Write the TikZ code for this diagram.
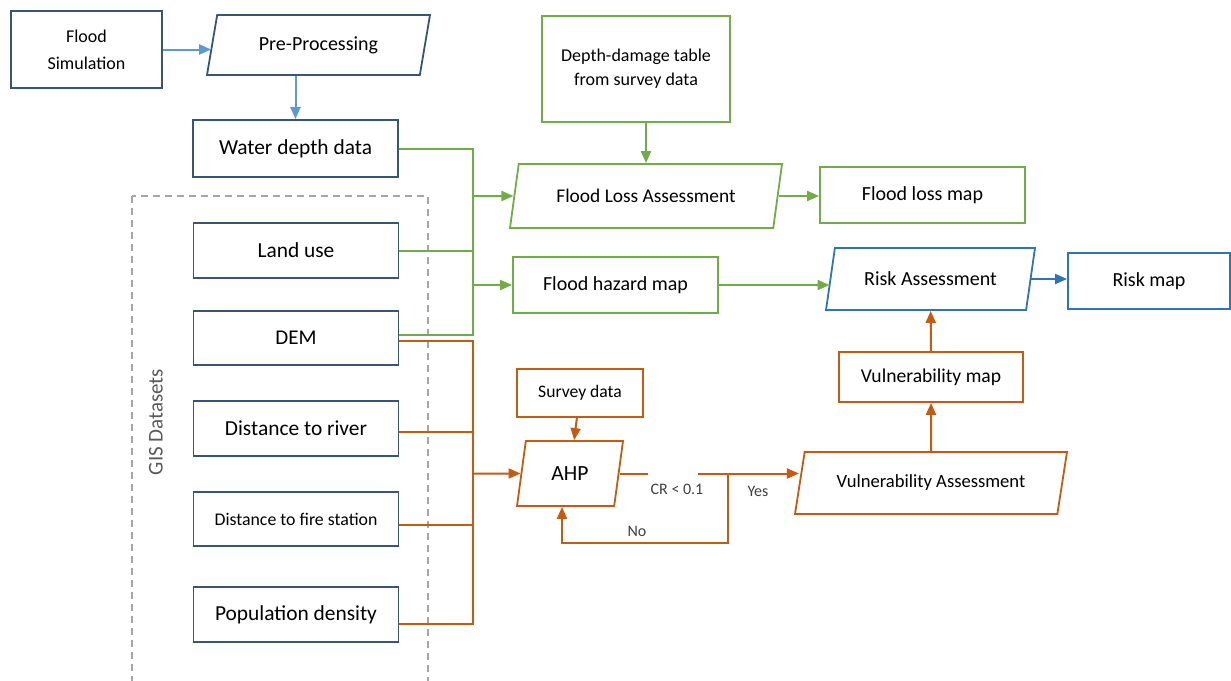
\documentclass[tikz,border=0pt]{standalone}
\usepackage{fontspec}
\setmainfont{Carlito}
\usetikzlibrary{arrows.meta,shapes.geometric}
\definecolor{boxblue}{HTML}{3A5574}
\definecolor{riskblue}{HTML}{2E75B6}
\definecolor{arrblue}{HTML}{5B9BD5}
\definecolor{fgreen}{HTML}{70AD47}
\definecolor{vorange}{HTML}{C55A11}
\begin{document}
\begin{tikzpicture}[x=0.5pt, y=-0.5pt, font=\fontsize{10}{12}\selectfont,
			box/.style={draw=#1, line width=0.9pt, inner sep=2pt, align=center},
			box/.default=boxblue,
			para/.style={trapezium, trapezium left angle=68, trapezium right angle=112,
				trapezium stretches body, draw=#1, line width=0.9pt, inner sep=2pt, align=center},
			para/.default=boxblue,
			tip/.style={-{Triangle[length=6pt, width=5pt]}},
			bline/.style={arrblue, line width=1pt},
			gline/.style={fgreen, line width=1pt},
			oline/.style={vorange, line width=1pt},
			lbl/.style={font=\fontsize{8}{10}\selectfont, text=black!75, inner sep=1pt}]
			\useasboundingbox (0,0) rectangle (1231,680);
			% GIS datasets frame
			\draw[gray!70, line width=0.8pt, dash pattern=on 3.5pt off 2.5pt] (132,196) rectangle (428,700);
			\node[rotate=90, text=black!65, font=\fontsize{10.5}{12}\selectfont] (gis) at (156,422) {GIS Datasets};
			% flood branch
			\node[box, minimum width=75.5pt, minimum height=38.5pt, font=\fontsize{9}{13.5}\selectfont] (sim) at (86.5,49.5) {Flood\\Simulation};
			\node[para, minimum width=111.5pt, minimum height=30pt] (pre) at (318.5,45) {Pre-Processing};
			\node[box, minimum width=102.5pt, minimum height=28.5pt, font=\fontsize{10.7}{13}\selectfont] (water) at (295.5,148.5) {Water depth data};
			\node[box, minimum width=102.5pt, minimum height=27.5pt, font=\fontsize{10.7}{13}\selectfont] (land) at (296,250.5) {Land use};
			\node[box, minimum width=102.5pt, minimum height=27pt, font=\fontsize{10.5}{13}\selectfont] (dem) at (296,338) {DEM};
			\node[box, minimum width=102.5pt, minimum height=27.5pt, font=\fontsize{10.7}{13}\selectfont] (river) at (296,428.5) {Distance to river};
			\node[box, minimum width=102.5pt, minimum height=27pt, font=\fontsize{8.9}{11}\selectfont] (fire) at (296,519) {Distance to fire station};
			\node[box, minimum width=102.5pt, minimum height=27.5pt, font=\fontsize{10.7}{13}\selectfont] (pop) at (296,614.5) {Population density};
			\node[box=fgreen, minimum width=94pt, minimum height=53pt, font=\fontsize{9}{12}\selectfont] (dd) at (636,69) {Depth-damage table\\from survey data};
			\node[para=fgreen, minimum width=136pt, minimum height=32pt, font=\fontsize{9.7}{12}\selectfont] (fla) at (646,196) {Flood Loss Assessment};
			\node[box=fgreen, minimum width=102.5pt, minimum height=28pt] (loss) at (922.5,195) {Flood loss map};
			\node[box=fgreen, minimum width=102.5pt, minimum height=28pt] (hazard) at (615.5,285) {Flood hazard map};
			\node[para=riskblue, minimum width=104.5pt, minimum height=31pt] (risk) at (930.5,279) {Risk Assessment};
			\node[box=riskblue, minimum width=81pt, minimum height=28pt] (riskmap) at (1149,281) {Risk map};
			% vulnerability branch
			\node[box=vorange, minimum width=92pt, minimum height=25pt, font=\fontsize{9.8}{12}\selectfont] (vmap) at (931,377) {Vulnerability map};
			\node[para=vorange, minimum width=136pt, minimum height=31pt, font=\fontsize{9.3}{12}\selectfont] (va) at (931,483) {Vulnerability Assessment};
			\node[box=vorange, minimum width=63pt, minimum height=24pt, font=\fontsize{8.8}{11}\selectfont] (survey) at (580,393) {Survey data};
			\node[para=vorange, minimum width=53pt, minimum height=32.5pt, font=\fontsize{10.8}{13}\selectfont] (ahp) at (570,473.5) {AHP};
			\coordinate (gbus) at (473,0);
			\coordinate (crL) at (648,473.5);
			\coordinate (crR) at (698,473.5);
			\coordinate (yesj) at (728,473.5);
			\coordinate (nocorner) at (562,543);
			\node[lbl] (cr) at (677,489) {CR < 0.1};
			\node[lbl] (yes) at (758,491) {Yes};
			\node[lbl] (no) at (637,531) {No};
			% blue connectors
			\draw[bline, tip] (sim.east) -- (sim.east -| pre.west);
			\draw[bline, tip] (water.north |- pre.south) -- (water.north);
			\draw[riskblue, line width=1pt, tip] (risk.east) -- (risk.east -| riskmap.west);
			% green connectors
			\draw[gline] (water.east) -| ([yshift=1.5pt]gbus |- dem.east) -- ([yshift=1.5pt]dem.east);
			\draw[gline] (land.east) -- (gbus |- land.east);
			\draw[gline, tip] (gbus |- fla) -- (fla);
			\draw[gline, tip] (gbus |- hazard) -- (hazard);
			\draw[gline, tip] (fla.north |- dd.south) -- (fla.north);
			\draw[gline, tip] (fla.east) -- (fla.east -| loss.west);
			\draw[gline, tip] (hazard.east) -- (hazard.east -| risk.west);
			% orange connectors
			\draw[oline] ([yshift=-1.5pt]dem.east) -| ([yshift=-4.5pt]gbus |- pop.east) -- ([yshift=-4.5pt]pop.east);
			\draw[oline] ([yshift=-1.8pt]river.east) -- ([yshift=-1.8pt]gbus |- river.east);
			\draw[oline] ([yshift=-3pt]fire.east) -- ([yshift=-3pt]gbus |- fire.east);
			\draw[oline, tip] (gbus |- ahp) -- (ahp);
			\draw[oline, tip] (survey) -- (ahp);
			\draw[oline] (ahp.east) -- (ahp.east -| crL);
			\draw[oline, tip] (crR) -- (crR -| va.west);
			\draw[oline, tip] (yesj) |- (nocorner) -- (nocorner |- ahp.south);
			\draw[oline, tip] (va) -- (vmap);
			\draw[oline, tip] (vmap) -- (risk);
		\end{tikzpicture}
\end{document}
